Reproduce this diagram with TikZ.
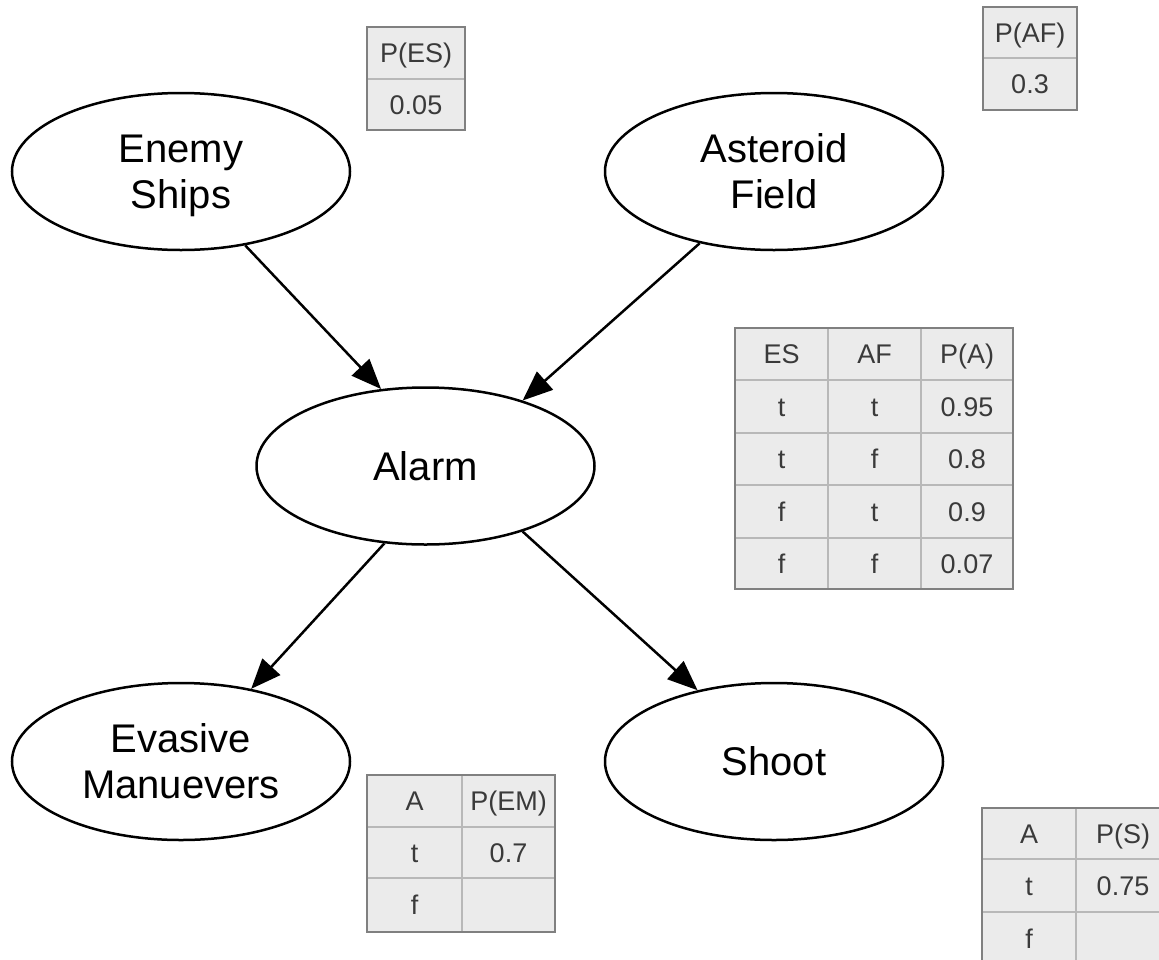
\documentclass[tikz,border=0pt]{standalone}
\usepackage{fontspec}
\setmainfont{Liberation Sans}
\usetikzlibrary{shapes.geometric,arrows.meta}
\definecolor{cellfill}{HTML}{EBEBEB}
\definecolor{outerline}{HTML}{808080}
\definecolor{innerline}{HTML}{B8B8B8}
\definecolor{celltext}{HTML}{3A3A3A}
\begin{document}
\begin{tikzpicture}[x=1pt,y=-1pt,
  var/.style={ellipse,draw=black,line width=2.5pt,minimum width=338pt,minimum height=157pt,inner sep=0pt,align=center,font=\fontsize{40}{46}\selectfont},
  edge/.style={line width=2.5pt,-{Triangle[length=30pt,width=24pt]}},
  cell/.style={font=\fontsize{27}{31}\selectfont,text=celltext,inner sep=0pt,text height=19.3pt,text depth=0pt,anchor=center},
  tabframe/.style={draw=outerline,fill=cellfill,line width=1.5pt},
  tabrule/.style={draw=innerline,line width=1.2pt}]
\clip (0,0) rectangle (1159,959);
\fill[white] (0,0) rectangle (1159,959);

% variables
\node[var] (es) at (181,171.5) {Enemy\\\smash{Ships}};
\node[var] (af) at (774,171.5) {Asteroid\\Field};
\node[var] (alarm) at (425.5,466) {Alarm};
\node[var] (em) at (181,761.5) {Evasive\\Manuevers};
\node[var] (sh) at (774,761.5) {Shoot};

% edges
\draw[edge] (es.-49) -- (alarm.120);
\draw[edge] (af.-136.5) -- (alarm.34);
\draw[edge] (alarm.-118) -- (em.46);
\draw[edge] (alarm.-34) -- (sh.137);

% table P(ES)
\path[tabframe] (367,27) rectangle (465,130);
\draw[tabrule] (367,79) -- (465,79);
\draw[outerline,line width=1.5pt] (367,27) rectangle (465,130);
\node[cell] (es-h) at (416,53) {P(ES)};
\node[cell] (es-v) at (416,104.5) {0.05};

% table P(AF)
\path[tabframe] (983,7) rectangle (1077,110);
\draw[tabrule] (983,58) -- (1077,58);
\draw[outerline,line width=1.5pt] (983,7) rectangle (1077,110);
\node[cell] (af-h) at (1030,32.5) {P(AF)};
\node[cell] (af-v) at (1030,84) {0.3};

% table P(A)
\path[tabframe] (735,328) rectangle (1013,589);
\foreach \yy in {380,433,485,538} \draw[tabrule] (735,\yy) -- (1013,\yy);
\foreach \xx in {828,921} \draw[tabrule] (\xx,328) -- (\xx,589);
\draw[outerline,line width=1.5pt] (735,328) rectangle (1013,589);
\node[cell] (a-h1) at (781.5,354) {ES};
\node[cell] (a-h2) at (874.5,354) {AF};
\node[cell] (a-h3) at (967,354) {P(A)};
\node[cell] (a-11) at (781.5,406.5) {t};
\node[cell] (a-12) at (874.5,406.5) {t};
\node[cell] (a-13) at (967,406.5) {0.95};
\node[cell] (a-21) at (781.5,459) {t};
\node[cell] (a-22) at (874.5,459) {f};
\node[cell] (a-23) at (967,459) {0.8};
\node[cell] (a-31) at (781.5,511.5) {f};
\node[cell] (a-32) at (874.5,511.5) {t};
\node[cell] (a-33) at (967,511.5) {0.9};
\node[cell] (a-41) at (781.5,563.5) {f};
\node[cell] (a-42) at (874.5,563.5) {f};
\node[cell] (a-43) at (967,563.5) {0.07};

% table P(EM)
\path[tabframe] (367,775) rectangle (555,932);
\foreach \yy in {827,878} \draw[tabrule] (367,\yy) -- (555,\yy);
\draw[tabrule] (462,775) -- (462,932);
\draw[outerline,line width=1.5pt] (367,775) rectangle (555,932);
\node[cell] (em-h1) at (414.5,801) {A};
\node[cell] (em-h2) at (508.5,801) {P(EM)};
\node[cell] (em-11) at (414.5,852.5) {t};
\node[cell] (em-12) at (508.5,852.5) {0.7};
\node[cell] (em-21) at (414.5,905) {f};

% table P(S)
\path[tabframe] (982,808) rectangle (1170,965);
\foreach \yy in {859,912} \draw[tabrule] (982,\yy) -- (1170,\yy);
\draw[tabrule] (1076,808) -- (1076,965);
\draw[outerline,line width=1.5pt] (982,808) rectangle (1170,965);
\node[cell] (s-h1) at (1029,833.5) {A};
\node[cell] (s-h2) at (1123,833.5) {P(S)};
\node[cell] (s-11) at (1029,885.5) {t};
\node[cell] (s-12) at (1123,885.5) {0.75};
\node[cell] (s-21) at (1029,938.5) {f};
\end{tikzpicture}
\end{document}
